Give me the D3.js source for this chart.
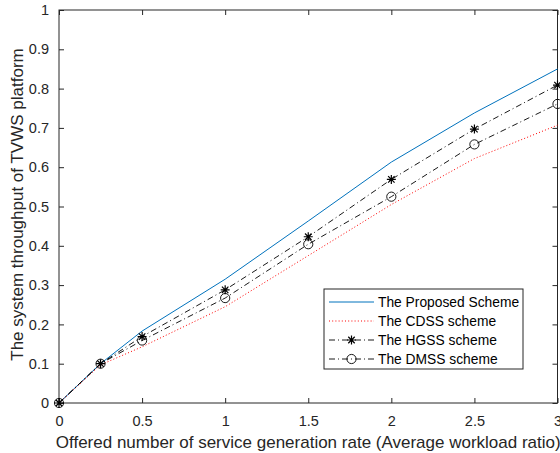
<!DOCTYPE html>
<html>
<head>
<meta charset="utf-8">
<script src="https://cdn.jsdelivr.net/npm/d3@7"></script>
<style>
  html, body { margin: 0; padding: 0; background: #fff; }
  svg { display: block; font-family: "Liberation Sans", Arial, sans-serif; }
</style>
</head>
<body>
<svg id="chart" width="560" height="453"></svg>
<script>
// Offered load (x) and throughput of each scheme
const loads    = [0, 0.25, 0.5, 1, 1.5, 2, 2.5, 3];
const proposed = [0, 0.100, 0.183, 0.315, 0.463, 0.613, 0.738, 0.850];
const cdss     = [0, 0.097, 0.143, 0.245, 0.375, 0.505, 0.622, 0.707];
const hgss     = [0, 0.100, 0.169, 0.288, 0.423, 0.569, 0.697, 0.809];
const dmss     = [0, 0.100, 0.159, 0.267, 0.404, 0.525, 0.658, 0.761];

const xTicks = [0, 0.5, 1, 1.5, 2, 2.5, 3];
const yTicks = [0, 0.1, 0.2, 0.3, 0.4, 0.5, 0.6, 0.7, 0.8, 0.9, 1];

const seriesNames = ["The Proposed Scheme", "The CDSS scheme", "The HGSS scheme", "The DMSS scheme"];

const axisColor = "#262626";
const svg = d3.select("#chart");

const plotLeft = 59, plotRight = 557.5, plotTop = 10, plotBottom = 403;
const x = d3.scaleLinear().domain([0, 3]).range([plotLeft, plotRight]);
const y = d3.scaleLinear().domain([0, 1]).range([plotBottom, plotTop]);

const series = [
  { name: seriesNames[0], values: proposed, color: "#0072BD", dash: null, marker: null, width: 1 },
  { name: seriesNames[1], values: cdss, color: "#FF0000", dash: "1,2.2", marker: null, width: 1 },
  { name: seriesNames[2], values: hgss, color: "#000", dash: "6,3,1,3", marker: "star", width: 0.9 },
  { name: seriesNames[3], values: dmss, color: "#000", dash: "6,3,1,3", marker: "circle", width: 0.9 }
];

// Axes box
svg.append("rect")
  .attr("x", plotLeft).attr("y", plotTop)
  .attr("width", plotRight - plotLeft).attr("height", plotBottom - plotTop)
  .attr("fill", "none").attr("stroke", axisColor).attr("stroke-width", 1);

const tickLen = 5;
const fmt = d => String(d);

// Bottom axis and mirrored top ticks
const xAxis = d3.axisBottom(x).tickValues(xTicks).tickSizeInner(-tickLen).tickSizeOuter(0).tickPadding(13).tickFormat(fmt);
const gx = svg.append("g").attr("transform", `translate(0,${plotBottom})`).call(xAxis);
const xAxisTop = d3.axisTop(x).tickValues(xTicks).tickSizeInner(-tickLen).tickSizeOuter(0).tickFormat("");
const gxt = svg.append("g").attr("transform", `translate(0,${plotTop})`).call(xAxisTop);

// Left axis and mirrored right ticks
const yAxis = d3.axisLeft(y).tickValues(yTicks).tickSizeInner(-tickLen).tickSizeOuter(0).tickPadding(10).tickFormat(fmt);
const gy = svg.append("g").attr("transform", `translate(${plotLeft},0)`).call(yAxis);
const yAxisRight = d3.axisRight(y).tickValues(yTicks).tickSizeInner(-tickLen).tickSizeOuter(0).tickFormat("");
const gyr = svg.append("g").attr("transform", `translate(${plotRight},0)`).call(yAxisRight);

[gx, gxt, gy, gyr].forEach(g => {
  g.select(".domain").remove();
  g.selectAll("line").attr("stroke", axisColor).attr("stroke-width", 1);
  g.selectAll("text").attr("fill", axisColor).style("font-size", "14.5px")
    .style("font-family", "'Liberation Sans', Arial, sans-serif");
});

// Axis titles
svg.append("text")
  .attr("x", (plotLeft + plotRight) / 2).attr("y", 448)
  .attr("text-anchor", "middle").attr("fill", axisColor)
  .style("font-size", "17px")
  .text("Offered number of service generation rate (Average workload ratio)");

svg.append("text")
  .attr("transform", `translate(22.5,${(plotTop + plotBottom) / 2 - 2}) rotate(-90)`)
  .attr("text-anchor", "middle").attr("fill", axisColor)
  .style("font-size", "17px")
  .text("The system throughput of TVWS platform");

// Lines
const line = d3.line().x((d, i) => x(loads[i])).y(d => y(d));
const plot = svg.append("g");

series.forEach(s => {
  plot.append("path")
    .datum(s.values)
    .attr("d", line)
    .attr("fill", "none")
    .attr("stroke", s.color)
    .attr("stroke-width", s.width)
    .attr("stroke-dasharray", s.dash);
});

// Marker drawing helpers
function drawStar(g, cx, cy, r) {
  const d = r * 0.72;
  const p = `M${cx - r},${cy}L${cx + r},${cy}M${cx},${cy - r}L${cx},${cy + r}` +
            `M${cx - d},${cy - d}L${cx + d},${cy + d}M${cx - d},${cy + d}L${cx + d},${cy - d}`;
  g.append("path").attr("d", p).attr("stroke", "#000").attr("stroke-width", 1.2).attr("fill", "none");
}
function drawCircle(g, cx, cy, r) {
  g.append("circle").attr("cx", cx).attr("cy", cy).attr("r", r)
    .attr("fill", "none").attr("stroke", "#000").attr("stroke-width", 0.9);
}

series.forEach(s => {
  if (!s.marker) return;
  const g = plot.append("g");
  s.values.forEach((v, i) => {
    if (s.marker === "star") drawStar(g, x(loads[i]), y(v), 4.5);
    else drawCircle(g, x(loads[i]), y(v), 4.6);
  });
});

// Legend
const lg = svg.append("g");
const lx = 324, ly = 289, lw = 199, lh = 80;
lg.append("rect").attr("x", lx).attr("y", ly).attr("width", lw).attr("height", lh)
  .attr("fill", "#fff").attr("stroke", axisColor).attr("stroke-width", 1);

series.forEach((s, i) => {
  const cy = 302 + i * 19;
  lg.append("line")
    .attr("x1", 329).attr("x2", 374).attr("y1", cy).attr("y2", cy)
    .attr("stroke", s.color).attr("stroke-width", s.width)
    .attr("stroke-dasharray", s.dash);
  if (s.marker === "star") drawStar(lg, 351.5, cy, 4.5);
  if (s.marker === "circle") drawCircle(lg, 351.5, cy, 4.6);
  lg.append("text")
    .attr("x", 378).attr("y", cy).attr("dy", "0.35em")
    .attr("fill", "#000").style("font-size", "13.8px")
    .text(s.name);
});
</script>
</body>
</html>
